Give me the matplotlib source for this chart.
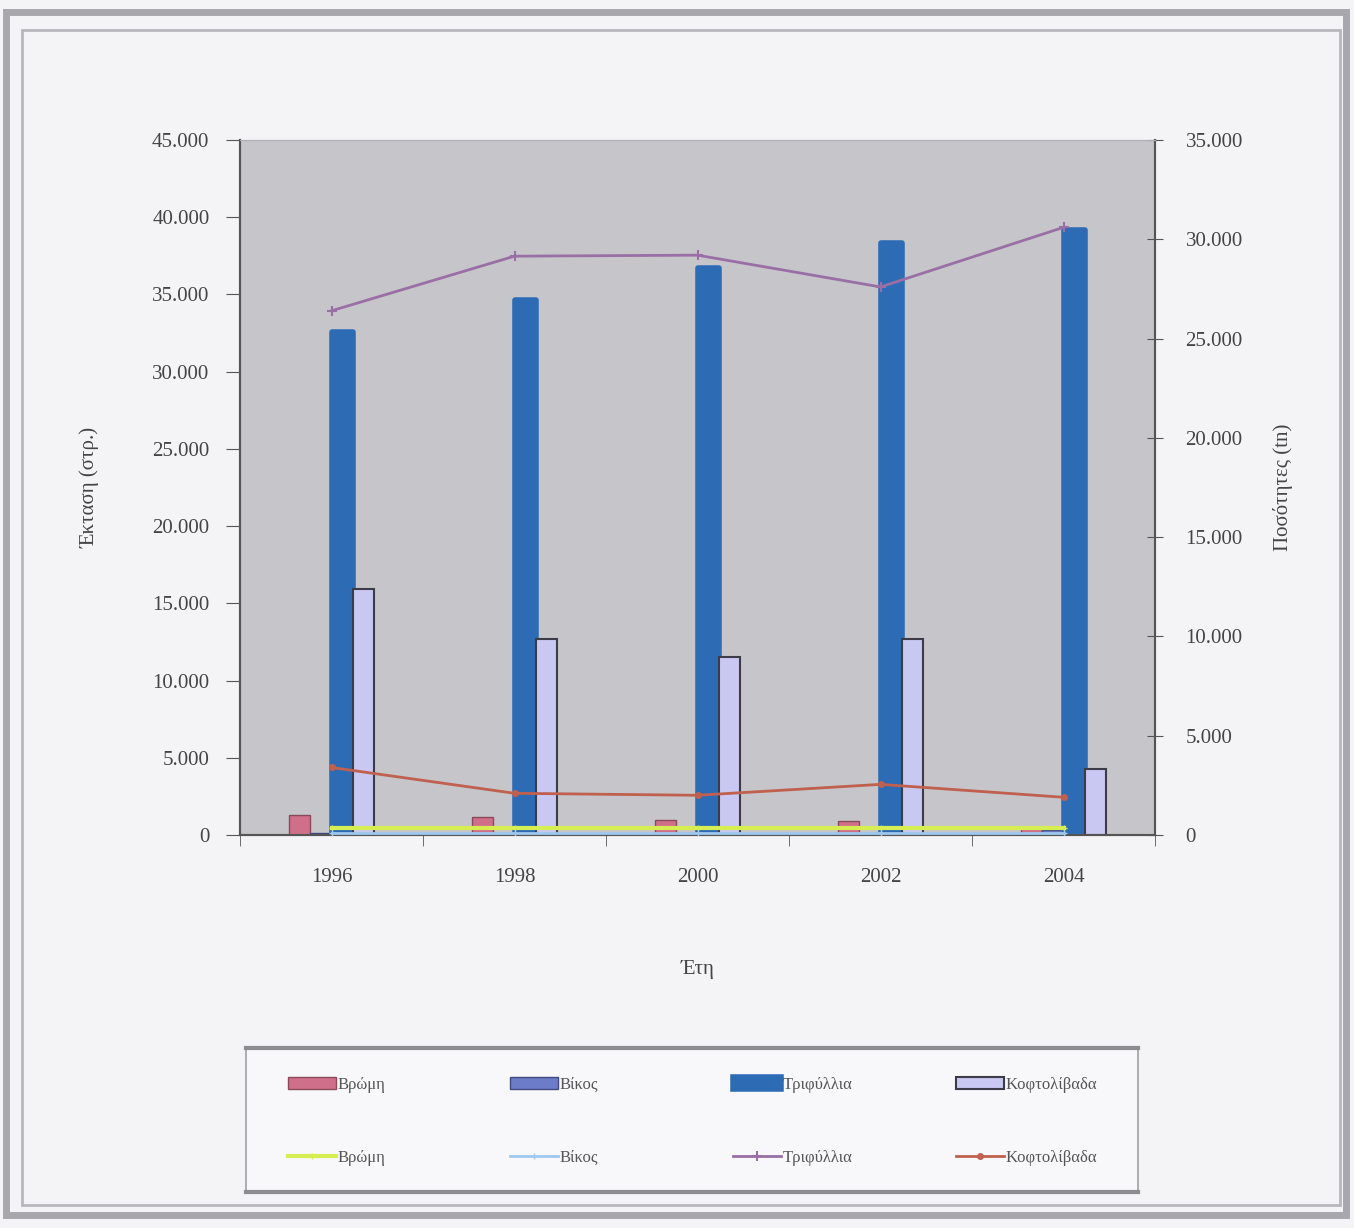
import matplotlib
matplotlib.use("Agg")
import matplotlib.pyplot as plt
import numpy as np
from matplotlib.patches import Rectangle
from matplotlib.ticker import FuncFormatter, MultipleLocator

plt.rcParams['font.family'] = ['Liberation Serif', 'DejaVu Serif']

years = ["1996", "1998", "2000", "2002", "2004"]
series_names = ["Βρώμη", "Βίκος", "Τριφύλλια", "Κοφτολίβαδα"]

# Area (stremmata) - bars, left axis
area_vromi = [1300, 1150, 950, 900, 550]
area_vikos = [150, 150, 150, 150, 300]
area_trifyllia = [32600, 34650, 36700, 38300, 39200]
area_koftolivada = [15900, 12700, 11500, 12700, 4300]

# Quantity (tn) - lines, right axis
qty_vromi = [350, 350, 350, 350, 350]
qty_vikos = [120, 120, 120, 120, 120]
qty_trifyllia = [26400, 29150, 29200, 27600, 30600]
qty_koftolivada = [3400, 2100, 2000, 2550, 1900]

W, H = 1354, 1228
fig = plt.figure(figsize=(W / 100, H / 100), dpi=100)
fig.patch.set_facecolor("#f4f4f6")

# outer frame
fig.patches.append(Rectangle((6 / W, 1 - 1215 / H), (1346 - 6) / W, (1215 - 12) / H,
                             transform=fig.transFigure, fill=False,
                             edgecolor="#a8a8ac", linewidth=5))
fig.patches.append(Rectangle((22 / W, 1 - 1205 / H), (1340 - 22) / W, (1205 - 30) / H,
                             transform=fig.transFigure, fill=False,
                             edgecolor="#b8b8bc", linewidth=2))

ax = fig.add_axes([240 / W, 1 - 835 / H, (1155 - 240) / W, (835 - 140) / H])
ax.set_facecolor("#c6c6ca")
ax2 = ax.twinx()

x = np.arange(len(years))
bw = 0.115
offs = [-1.5 * bw, -0.5 * bw, 0.5 * bw, 1.5 * bw]

b1 = ax.bar(x + offs[0], area_vromi, bw, color="#cf6f8a", edgecolor="#8a4a5a", linewidth=1, zorder=3)
b2 = ax.bar(x + offs[1], area_vikos, bw, color="#6c7cc8", edgecolor="#404a80", linewidth=1, zorder=3)
b3 = ax.bar(x + offs[2], area_trifyllia, bw, color="#2d6cb4", edgecolor="#2d6cb4", linewidth=4,
            joinstyle="round", zorder=3)
b4 = ax.bar(x + offs[3], area_koftolivada, bw, color="#c8c8f2", edgecolor="#3c3c48", linewidth=1.5, zorder=3)

l1, = ax2.plot(x, qty_vromi, color="#d6ee52", lw=3, marker="+", ms=5, zorder=4)
l2, = ax2.plot(x, qty_vikos, color="#9ec8ee", lw=2, marker="+", ms=5, zorder=4)
l3, = ax2.plot(x, qty_trifyllia, color="#9a6fa6", lw=2, marker="+", ms=7, mew=1.5, zorder=4)
l4, = ax2.plot(x, qty_koftolivada, color="#c0604e", lw=2, marker="o", ms=4, zorder=4)

ax.set_xlim(-0.5, 4.5)
ax.set_ylim(0, 45000)
ax2.set_ylim(0, 35000)
ax.yaxis.set_major_locator(MultipleLocator(5000))
ax2.yaxis.set_major_locator(MultipleLocator(5000))
fmt = FuncFormatter(lambda v, p: f"{int(v):,}".replace(",", "."))
ax.yaxis.set_major_formatter(fmt)
ax2.yaxis.set_major_formatter(fmt)

ax.set_xticks(x)
ax.set_xticklabels(years)
ax.set_xticks(np.arange(-0.5, 5, 1), minor=True)
ax.tick_params(axis="x", which="major", length=0, pad=24, labelsize=15, labelcolor="#444444")
ax.tick_params(axis="x", which="minor", length=8, direction="out", color="#555555")
ax.tick_params(axis="y", length=10, direction="out", labelsize=15, labelcolor="#444444", color="#555555", pad=12)
ax2.tick_params(axis="y", length=12, direction="inout", labelsize=15, labelcolor="#444444", color="#555555", pad=16)

for a in (ax, ax2):
    a.spines["top"].set_color("#b0b0b4")
    a.spines["left"].set_color("#555555")
    a.spines["right"].set_color("#555555")
    a.spines["bottom"].set_color("#555555")
    a.spines["left"].set_linewidth(1.5)
    a.spines["right"].set_linewidth(1.5)
    a.spines["bottom"].set_linewidth(1.5)

ax.set_ylabel("Έκταση (στρ.)", fontsize=15, color="#444444", labelpad=38)
ax2.set_ylabel("Ποσότητες (tn)", fontsize=15, color="#444444", labelpad=22)
ax.set_xlabel("Έτη", fontsize=15, color="#444444", labelpad=52)

# legend box
fig.patches.append(Rectangle((246 / W, 1 - 1192 / H), (1138 - 246) / W, (1192 - 1048) / H,
                             transform=fig.transFigure, facecolor="#f8f8fa",
                             edgecolor="#a0a0a4", linewidth=1.2, zorder=1))
for yy in (1048, 1192):
    fig.add_artist(plt.Line2D([246 / W, 1138 / W], [1 - yy / H, 1 - yy / H],
                              transform=fig.transFigure, color="#8c8c90", lw=3))

col_x = [288, 510, 733, 956]
row_y = [1085, 1158]
bar_handles = [b1, b2, b3, b4]
line_handles = [l1, l2, l3, l4]
for r, hs in enumerate((bar_handles, line_handles)):
    for c, h in enumerate(hs):
        lg = fig.legend([h], [series_names[c]], loc="center left",
                        bbox_to_anchor=(col_x[c] / W, 1 - row_y[r] / H),
                        frameon=False, borderpad=0, borderaxespad=0,
                        fontsize=12, handlelength=2.9, handletextpad=0.1,
                        handleheight=0.75)
        for t in lg.get_texts():
            t.set_color("#555555")

fig.savefig("out.png", dpi=100, facecolor=fig.get_facecolor())
